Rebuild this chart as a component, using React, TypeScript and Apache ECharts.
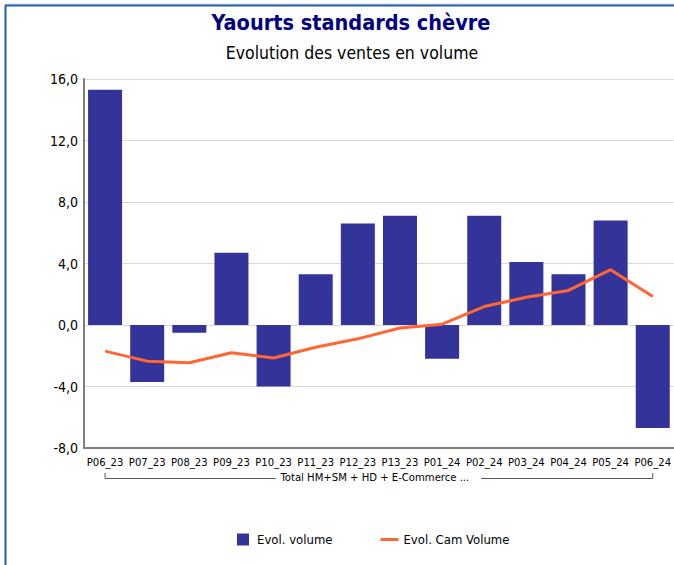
import React, { useEffect, useRef } from "react";
import * as echarts from "echarts";

const categories = [
  "P06_23", "P07_23", "P08_23", "P09_23", "P10_23", "P11_23", "P12_23",
  "P13_23", "P01_24", "P02_24", "P03_24", "P04_24", "P05_24", "P06_24",
];
const evolVolume = [15.3, -3.7, -0.5, 4.7, -4.0, 3.3, 6.6, 7.1, -2.2, 7.1, 4.1, 3.3, 6.8, -6.7];
const evolCamVolume = [-1.7, -2.35, -2.45, -1.8, -2.15, -1.45, -0.9, -0.2, 0.05, 1.2, 1.8, 2.25, 3.6, 1.85];
const groupLabel = "Total HM+SM + HD + E-Commerce ...";
const yMin = -8;
const yMax = 16;
const yInterval = 4;

const condFont = "'DejaVu Sans Condensed', 'DejaVu Sans', sans-serif";
const catFontSize = 11.2;

export default function App() {
  const ref = useRef<HTMLDivElement>(null);
  useEffect(() => {
    if (!ref.current) return;
    const chart = echarts.init(ref.current, null, { renderer: "svg" });
    chart.setOption({
      animation: false,
      backgroundColor: "#ffffff",
      title: [
        {
          text: "Yaourts standards chèvre",
          left: 346,
          textAlign: "center",
          top: 6,
          textStyle: { color: "#000080", fontFamily: condFont, fontWeight: "bold", fontSize: 21.5 },
        },
        {
          text: "Evolution des ventes en volume",
          left: 347,
          textAlign: "center",
          top: 39,
          textStyle: { color: "#000000", fontFamily: condFont, fontWeight: "normal", fontSize: 17.5 },
        },
      ],
      grid: { left: 84, top: 79, width: 593, height: 369, containLabel: false },
      legend: {
        left: 232,
        top: 528,
        itemGap: 48,
        itemWidth: 18,
        itemHeight: 12,
        textStyle: { fontFamily: condFont, fontSize: 13, color: "#000" },
        data: [
          { name: "Evol. volume", icon: "path://M0,0h10v10h-10z" },
          { name: "Evol. Cam Volume", icon: "path://M0,0h18v3h-18z" },
        ],
      },
      xAxis: {
        type: "category",
        data: categories,
        axisLine: { onZero: false, lineStyle: { color: "#7f7f7f", width: 2 } },
        axisTick: { show: false },
        axisLabel: { interval: 0, margin: 8, lineHeight: 12, fontSize: catFontSize, fontFamily: condFont, color: "#000" },
      },
      yAxis: {
        type: "value",
        min: yMin,
        max: yMax,
        interval: yInterval,
        axisLine: { show: true, lineStyle: { color: "#7f7f7f", width: 2 } },
        axisTick: { show: false },
        splitLine: { lineStyle: { color: "#d9d9d9", width: 1 } },
        axisLabel: {
          margin: 6,
          fontSize: 14,
          fontFamily: condFont,
          color: "#000",
          formatter: (v: number) => v.toFixed(1).replace(".", ","),
        },
      },
      series: [
        {
          name: "Evol. volume",
          type: "bar",
          data: evolVolume,
          barWidth: 34,
          itemStyle: { color: "#333399" },
        },
        {
          name: "Evol. Cam Volume",
          type: "line",
          data: evolCamVolume,
          symbol: "none",
          lineStyle: { color: "#ff6633", width: 3 },
          itemStyle: { color: "#ff6633" },
          z: 5,
        },
      ],
    });

    const x0 = chart.convertToPixel({ xAxisIndex: 0 }, categories[0]) as number;
    const x1 = chart.convertToPixel({ xAxisIndex: 0 }, categories[categories.length - 1]) as number;
    const ctx = document.createElement("canvas").getContext("2d");
    let tw = 200;
    if (ctx) {
      ctx.font = catFontSize + "px " + condFont;
      tw = ctx.measureText(groupLabel).width;
    }
    const tx = (x0 + x1) / 2 - 4;
    const yb = 478.5;
    const yt = 473;
    const lineStyle = { stroke: "#555555", lineWidth: 1 };
    chart.setOption({
      graphic: [
        { type: "line", shape: { x1: 5, y1: 4, x2: 674, y2: 4 }, style: { stroke: "#c8d8ec", lineWidth: 1 }, silent: true },
        { type: "line", shape: { x1: 5, y1: 5.5, x2: 674, y2: 5.5 }, style: { stroke: "#1f5fae", lineWidth: 2 }, silent: true },
        { type: "line", shape: { x1: 5.5, y1: 5, x2: 5.5, y2: 565 }, style: { stroke: "#1f5fae", lineWidth: 2 }, silent: true },
        { type: "polyline", shape: { points: [[x0, yt], [x0, yb], [tx - tw / 2 - 5, yb]] }, style: { ...lineStyle, fill: null }, silent: true },
        { type: "polyline", shape: { points: [[tx + tw / 2 + 12, yb], [x1, yb], [x1, yt]] }, style: { ...lineStyle, fill: null }, silent: true },
        {
          type: "text",
          x: tx,
          y: 477.5,
          style: { text: groupLabel, fontSize: catFontSize, lineHeight: 12, fontFamily: condFont, fill: "#000", align: "center", verticalAlign: "middle" },
          silent: true,
        },
      ],
    });

    return () => chart.dispose();
  }, []);
  return <div ref={ref} style={{ position: "fixed", left: 0, top: 0, width: 674, height: 565 }} />;
}
